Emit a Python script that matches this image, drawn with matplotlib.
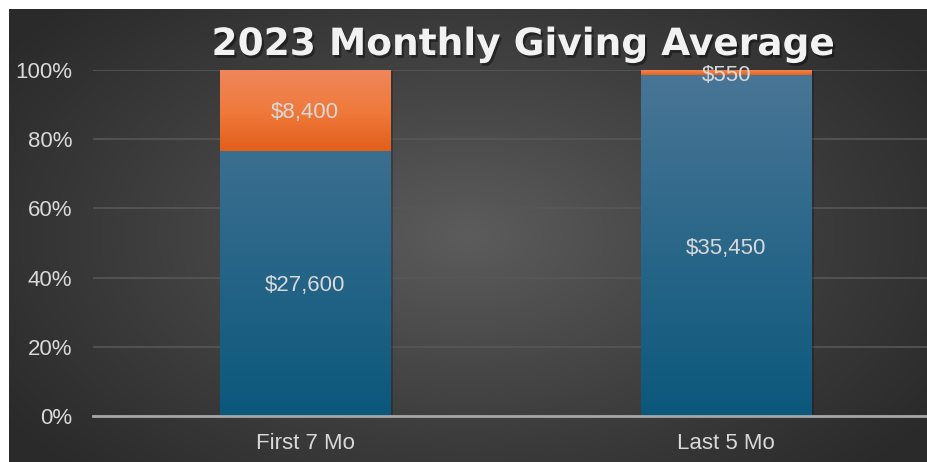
import numpy as np
import matplotlib.pyplot as plt
import matplotlib.patheffects as pe
from matplotlib.colors import LinearSegmentedColormap
from matplotlib.ticker import PercentFormatter

categories = ["First 7 Mo", "Last 5 Mo"]
base_values = [27600, 35450]
top_values = [8400, 550]
base_labels = ["$27,600", "$35,450"]
top_labels = ["$8,400", "$550"]

W, H = 927, 462
fig = plt.figure(figsize=(W / 100, H / 100), dpi=100, facecolor="white")

# --- dark radial background (white margin top/left like the source) ---
bg = fig.add_axes([9 / W, 0, 1 - 9 / W, 1 - 9 / H])
bg.axis("off")
yy, xx = np.mgrid[0:1:300j, 0:1:600j]
r = np.sqrt(((xx - 0.5) / 0.62) ** 2 + ((yy - 0.5) / 0.75) ** 2)
shade = np.clip(1 - r, 0, 1) ** 1.1
bg_cmap = LinearSegmentedColormap.from_list("bg", ["#2a2a2a", "#5c5c5c"])
bg.imshow(shade, cmap=bg_cmap, aspect="auto", extent=(0, 1, 0, 1), vmin=0, vmax=1)
bg.set_xlim(0, 1)
bg.set_ylim(0, 1)

# --- main axes ---
ax = fig.add_axes([93 / W, 46 / H, 1 - 93 / W, (416 - 70) / H])
ax.set_facecolor("none")

totals = np.array(base_values) + np.array(top_values)
base_pct = np.array(base_values) / totals
top_pct = np.array(top_values) / totals
x = np.arange(len(categories))

blue_bars = ax.bar(x, base_pct, width=0.404, color="#2a6a8e", zorder=3)
orange_bars = ax.bar(x, top_pct, bottom=base_pct, width=0.404, color="#eb6a2c", zorder=3)

blue_cmap = LinearSegmentedColormap.from_list("blue", ["#0b587c", "#4a7696"])
orange_cmap = LinearSegmentedColormap.from_list("orange", ["#e25f1b", "#f07a3c", "#ee865c"])
grad = np.linspace(0, 1, 256).reshape(-1, 1)
shadow = [pe.SimplePatchShadow(offset=(2, -1), shadow_rgbFace="black", alpha=0.22)]

# blue gradient spans the full bar height so the short segment keeps the lighter top
for p in blue_bars:
    x0, w = p.get_x(), p.get_width()
    p.set_path_effects(shadow)
    im = ax.imshow(grad, cmap=blue_cmap, origin="lower", extent=(x0, x0 + w, 0, 1),
                   aspect="auto", zorder=3.5, vmin=0, vmax=1)
    im.set_clip_path(p)
for p in orange_bars:
    x0, y0 = p.get_x(), p.get_y()
    w, h = p.get_width(), p.get_height()
    p.set_path_effects(shadow)
    im = ax.imshow(grad, cmap=orange_cmap, origin="lower", extent=(x0, x0 + w, y0, y0 + h),
                   aspect="auto", zorder=3.5, vmin=0, vmax=1)
    im.set_clip_path(p)

label_color = "#d9d9d9"
font = "Liberation Sans"
for i in range(len(categories)):
    ax.text(x[i], base_pct[i] / 2, base_labels[i], ha="center", va="center_baseline",
            color=label_color, fontsize=16, family=font, zorder=5)
    ax.text(x[i], base_pct[i] + top_pct[i] / 2, top_labels[i], ha="center", va="center_baseline",
            color=label_color, fontsize=16, family=font, zorder=5)

ax.set_xlim(-0.504, 1.477)
ax.set_ylim(0, 1)
ax.set_yticks(np.linspace(0, 1, 6))
ax.yaxis.set_major_formatter(PercentFormatter(1.0, decimals=0))
ax.set_xticks(x)
ax.set_xticklabels(categories)
for lbl in ax.get_xticklabels() + ax.get_yticklabels():
    lbl.set_family(font)
ax.tick_params(axis="both", length=0, colors=label_color, labelsize=16)
ax.tick_params(axis="y", pad=15)
ax.tick_params(axis="x", pad=12)
ax.grid(axis="y", color="#575757", linewidth=1.2, zorder=1)
for s in ["top", "right", "left"]:
    ax.spines[s].set_visible(False)
ax.spines["bottom"].set_color("#a6a6a6")
ax.spines["bottom"].set_linewidth(2)
ax.spines["bottom"].set_zorder(4)

fig.text(523 / W, 1 - 45 / H, "2023 Monthly Giving Average", ha="center", va="center",
         color="#f2f2f2", fontsize=27, fontweight="bold", family="DejaVu Sans",
         path_effects=[pe.withSimplePatchShadow(offset=(1.5, -2), shadow_rgbFace="black", alpha=0.4)])

fig.savefig("out.png", dpi=100, facecolor="white")
